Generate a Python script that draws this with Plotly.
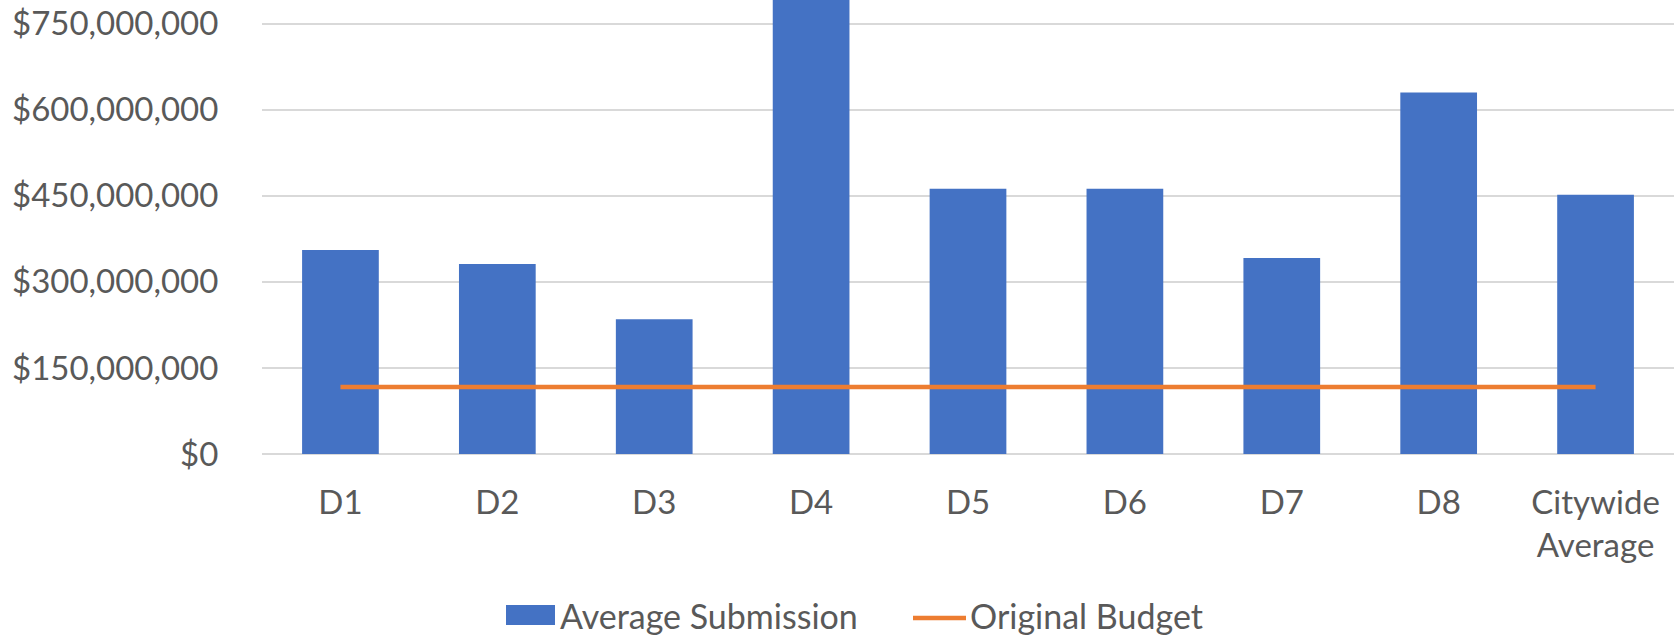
import plotly.graph_objects as go

categories = ["D1", "D2", "D3", "D4", "D5", "D6", "D7", "D8", "Citywide<br>Average"]
average_submission = [355_600_000, 331_200_000, 234_800_000, 797_000_000, 462_500_000,
                      462_500_000, 341_600_000, 630_400_000, 452_000_000]
original_budget = [116_800_000, 116_800_000, 116_800_000, 116_800_000, 116_800_000,
                   116_800_000, 116_800_000, 116_800_000, 116_800_000]
y_ticks = [0, 150_000_000, 300_000_000, 450_000_000, 600_000_000, 750_000_000]
y_tick_labels = ["$0", "$150,000,000", "$300,000,000", "$450,000,000",
                 "$600,000,000", "$750,000,000"]

BLUE = "#4472C4"
ORANGE = "#ED7D31"
TEXT = "#595959"
FONT = "Lato"
FS = 33

W, H = 1675, 635
L, R, T, B = 262, 1, 0, 181
PW, PH = W - L - R, H - T - B


def px(x):
    return (x - L) / PW


def py(y):
    return (H - B - y) / PH


fig = go.Figure()
fig.add_trace(go.Bar(x=categories, y=average_submission, name="Average Submission",
                     marker=dict(color=BLUE, line=dict(width=0)), showlegend=False))
fig.add_trace(go.Scatter(x=categories, y=original_budget, name="Original Budget",
                         mode="lines", line=dict(color=ORANGE, width=4.5), showlegend=False))

# legend drawn as decoration
fig.add_shape(type="rect", xref="paper", yref="paper", x0=px(506), x1=px(555),
              y0=py(625), y1=py(605), fillcolor=BLUE, line=dict(width=0))
fig.add_shape(type="line", xref="paper", yref="paper", x0=px(913), x1=px(966),
              y0=py(618), y1=py(618), line=dict(color=ORANGE, width=4.5))
fig.add_annotation(xref="paper", yref="paper", x=px(558), y=py(615), text="Average Submission",
                   showarrow=False, xanchor="left", yanchor="middle",
                   font=dict(family=FONT, size=34, color=TEXT))
fig.add_annotation(xref="paper", yref="paper", x=px(968), y=py(615), text="Original Budget",
                   showarrow=False, xanchor="left", yanchor="middle",
                   font=dict(family=FONT, size=34, color=TEXT))

fig.update_layout(
    width=W, height=H,
    margin=dict(l=L, r=R, t=T, b=B, autoexpand=False),
    paper_bgcolor="white", plot_bgcolor="white",
    bargap=0.511,
    font=dict(family=FONT, size=FS, color=TEXT),
    showlegend=False,
)
fig.update_xaxes(showgrid=False, showline=False, ticks="outside", ticklen=19,
                 tickcolor="rgba(0,0,0,0)", tickfont=dict(family=FONT, size=FS, color=TEXT))
fig.update_yaxes(range=[0, 791_500_000], tickmode="array", tickvals=y_ticks,
                 ticktext=y_tick_labels,
                 showgrid=True, gridcolor="#D9D9D9", gridwidth=1.5,
                 zeroline=True, zerolinecolor="#D9D9D9", zerolinewidth=1.5,
                 showline=False, ticks="outside", ticklen=36, tickcolor="rgba(0,0,0,0)",
                 tickfont=dict(family=FONT, size=FS, color=TEXT))

fig.write_html("out.html", config={"displayModeBar": False},
               post_script="document.body.style.margin='0';document.body.style.overflow='hidden';")
